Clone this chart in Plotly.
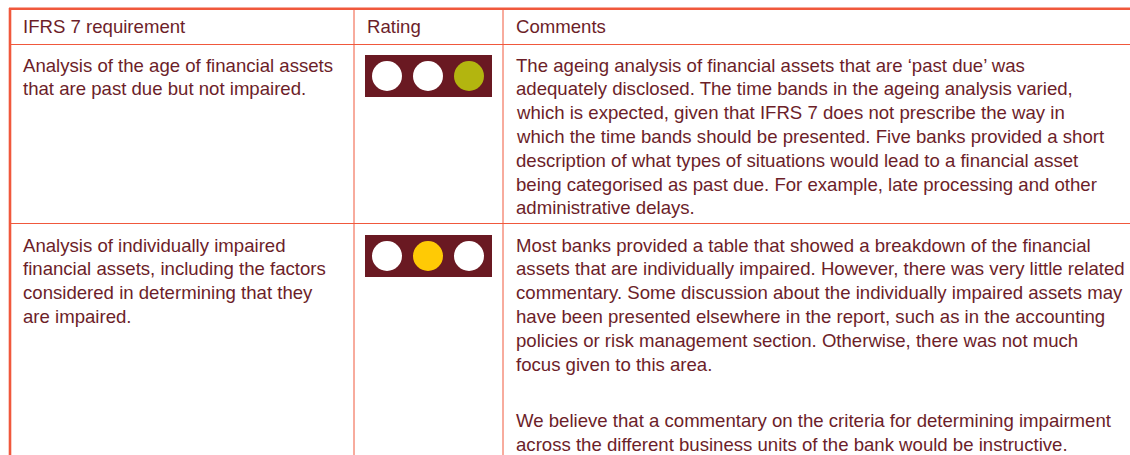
import plotly.graph_objects as go

# ---- data ----
headers = ["IFRS 7 requirement", "Rating", "Comments"]
requirements = [
    ["Analysis of the age of financial assets",
     "that are past due but not impaired."],
    ["Analysis of individually impaired",
     "financial assets, including the factors",
     "considered in determining that they",
     "are impaired."],
]
comments = [
    ["The ageing analysis of financial assets that are \u2018past due\u2019 was",
     "adequately disclosed. The time bands in the ageing analysis varied,",
     "which is expected, given that IFRS 7 does not prescribe the way in",
     "which the time bands should be presented. Five banks provided a short",
     "description of what types of situations would lead to a financial asset",
     "being categorised as past due. For example, late processing and other",
     "administrative delays."],
    ["Most banks provided a table that showed a breakdown of the financial",
     "assets that are individually impaired. However, there was very little related",
     "commentary. Some discussion about the individually impaired assets may",
     "have been presented elsewhere in the report, such as in the accounting",
     "policies or risk management section. Otherwise, there was not much",
     "focus given to this area.",
     "",
     "We believe that a commentary on the criteria for determining impairment",
     "across the different business units of the bank would be instructive."],
]
# traffic-light rating: colour of each of the three lights per row
ratings = [
    ["white", "white", "#b3b50f"],
    ["white", "#ffca05", "white"],
]

# ---- style / layout ----
W, H = 1130, 455
TXT = "#6c1e29"
LINE = "#f0583c"
BOX = "#6a1922"
FONT = "Liberation Sans"
FS = 18.6
LH = 23.8
PARA_GAP = 9

col_x = [21, 365, 514]
div_x = [354, 503]
header_y = 26
header_bottom = 44.5
row_top = [44.5, 223.5]
row_text_y0 = [65, 245]
box_y = [(55, 97), (235, 277)]
box_x = (365, 492)
light_x = [387, 428, 469]

fig = go.Figure()
shapes = []
annotations = []

# borders
shapes.append(dict(type="line", x0=9, x1=W + 40, y0=8.7, y1=8.7, line=dict(color=LINE, width=2.6)))
shapes.append(dict(type="line", x0=10, x1=10, y0=8, y1=H + 40, line=dict(color=LINE, width=2.6)))
for dx in div_x:
    shapes.append(dict(type="line", x0=dx, x1=dx, y0=9, y1=H + 40, line=dict(color=LINE, width=1)))
shapes.append(dict(type="line", x0=10, x1=W + 40, y0=header_bottom, y1=header_bottom, line=dict(color=LINE, width=1)))
shapes.append(dict(type="line", x0=10, x1=W + 40, y0=row_top[1], y1=row_top[1], line=dict(color=LINE, width=1)))

# header
for h, x in zip(headers, col_x):
    annotations.append(dict(x=x, y=header_y, text=h, showarrow=False, xanchor="left",
                            yanchor="middle", font=dict(family=FONT, size=FS, color=TXT)))

# body text
for r in range(len(requirements)):
    y0 = row_text_y0[r]
    for i, t in enumerate(requirements[r]):
        annotations.append(dict(x=col_x[0], y=y0 + i * LH, text=t, showarrow=False,
                                xanchor="left", yanchor="middle",
                                font=dict(family=FONT, size=FS, color=TXT)))
    gap = 0
    for i, t in enumerate(comments[r]):
        if not t:
            gap = PARA_GAP
            continue
        yy = y0 + i * LH + gap
        annotations.append(dict(x=col_x[2], y=yy, text=t, showarrow=False,
                                xanchor="left", yanchor="middle",
                                font=dict(family=FONT, size=FS, color=TXT)))
    # rating box
    shapes.append(dict(type="rect", x0=box_x[0], x1=box_x[1], y0=box_y[r][0], y1=box_y[r][1],
                       fillcolor=BOX, line=dict(width=0), layer="below"))

# lights
for r, lights in enumerate(ratings):
    yc = (box_y[r][0] + box_y[r][1]) / 2
    fig.add_trace(go.Scatter(
        x=light_x, y=[yc] * len(lights), mode="markers",
        marker=dict(size=30, color=lights, line=dict(width=0)),
        hoverinfo="skip", showlegend=False))

fig.update_layout(
    width=W, height=H, margin=dict(l=0, r=0, t=0, b=0, pad=0),
    paper_bgcolor="white", plot_bgcolor="white",
    xaxis=dict(range=[0, W], visible=False, fixedrange=True),
    yaxis=dict(range=[H, 0], visible=False, fixedrange=True),
    shapes=shapes, annotations=annotations, showlegend=False,
)
fig.write_html(
    "out.html",
    config={"displayModeBar": False},
    post_script="document.body.style.margin='0';document.body.style.overflow='hidden';",
)
